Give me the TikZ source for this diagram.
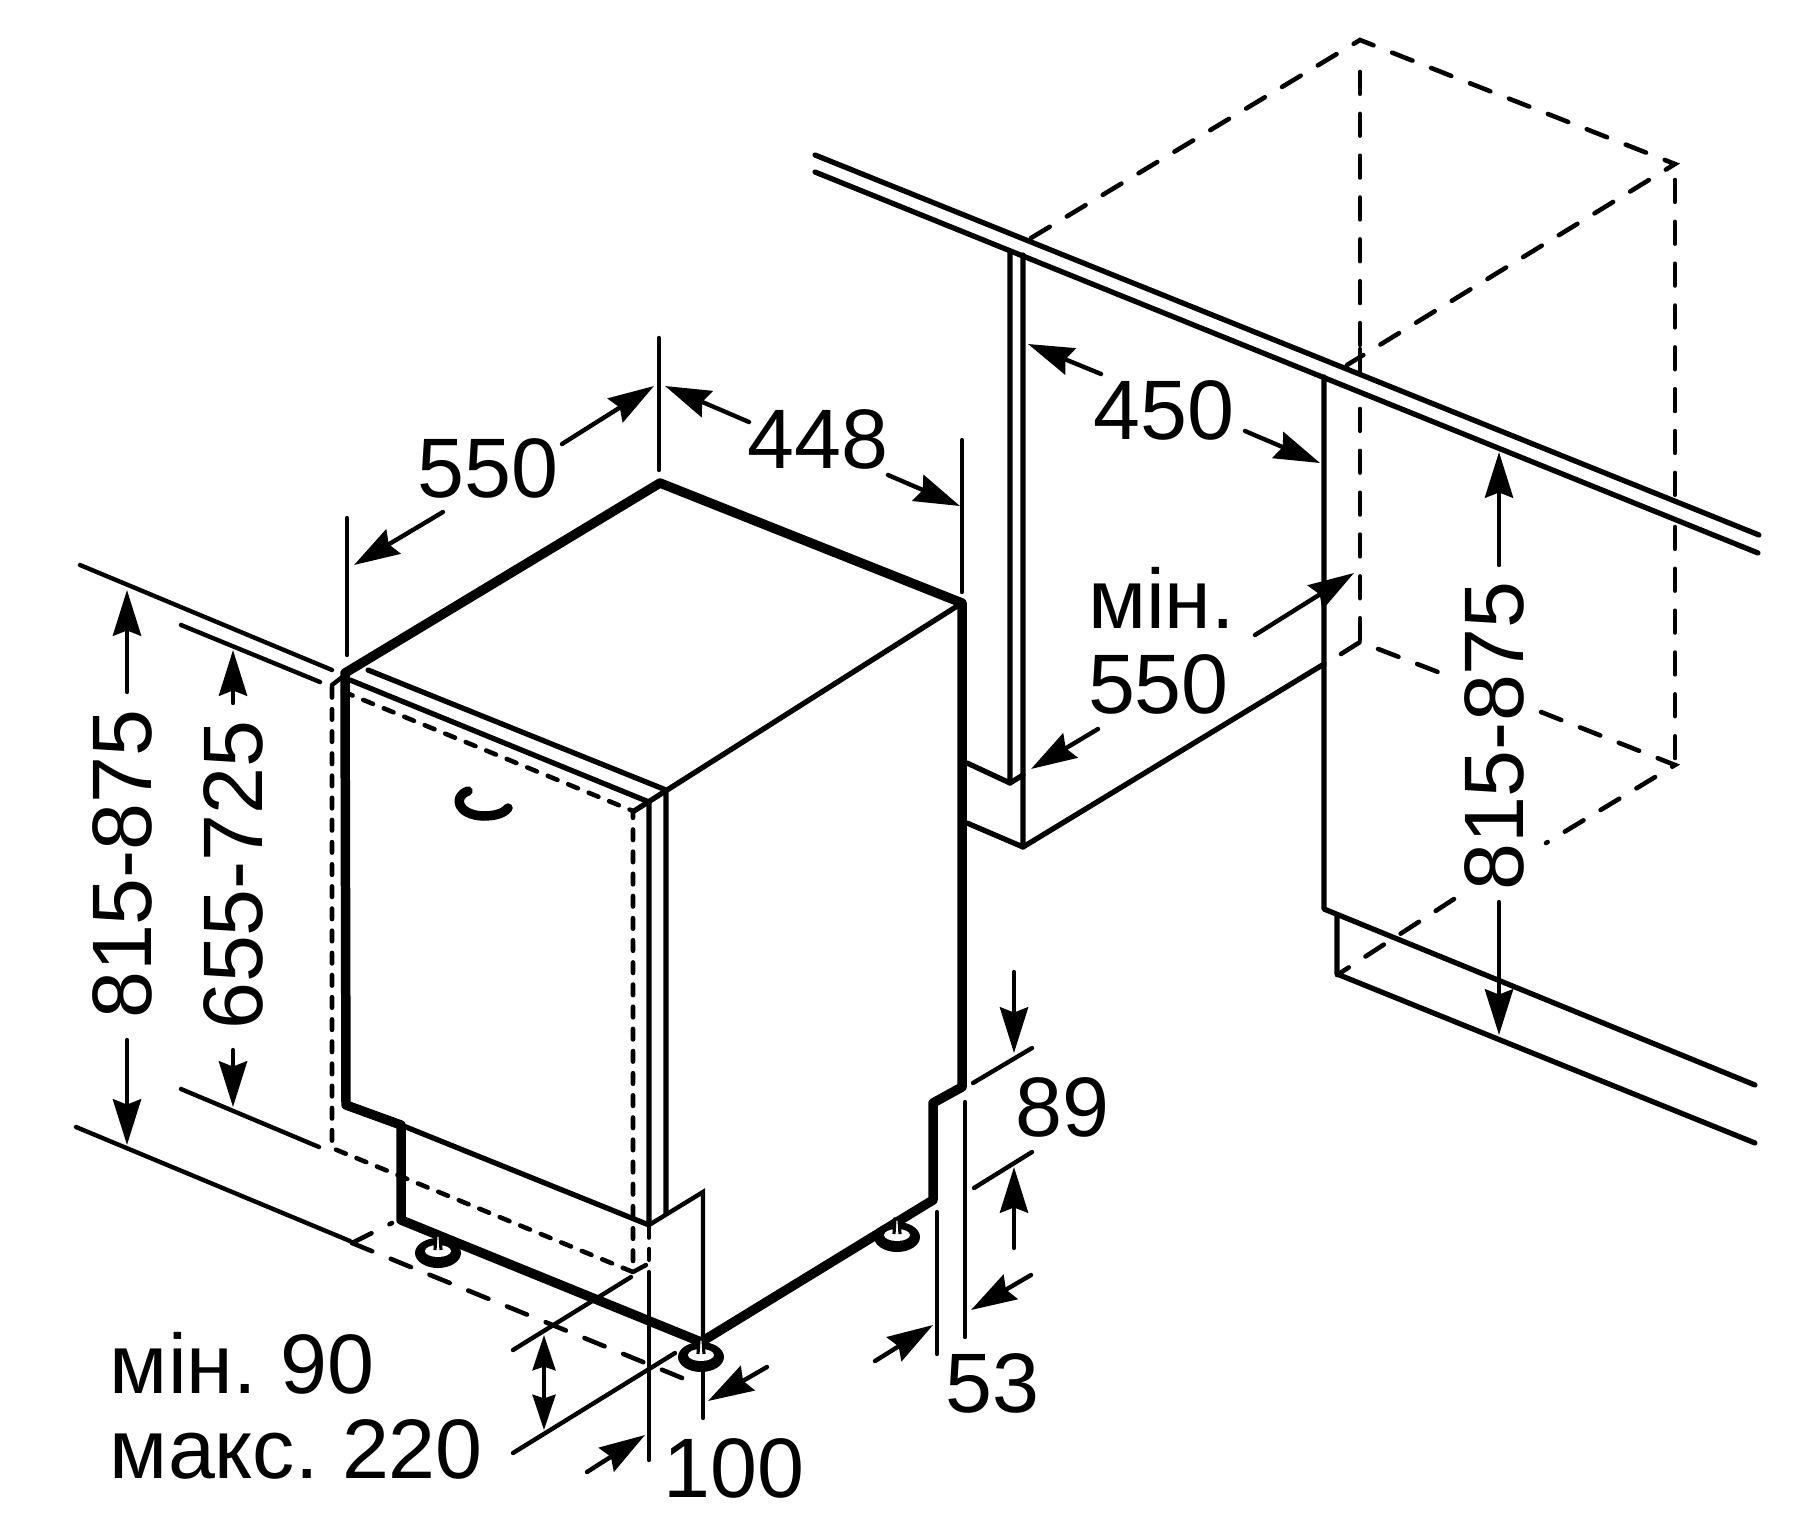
\documentclass[tikz,border=0pt]{standalone}
\usepackage{fontspec}
\setmainfont{Liberation Sans}
\usetikzlibrary{arrows.meta}

\begin{document}
\begin{tikzpicture}[
    x=0.01cm,y=-0.01cm,
    heavyline/.style={line width=2.7pt,line join=round,line cap=round},
    bodyline/.style={line width=1.5pt,line join=round,line cap=round},
    dimline/.style={line width=1.25pt,line cap=round},
    dimarrow/.style={dimline,-{Stealth[length=13pt,width=8pt,inset=1.5pt]}},
    dimboth/.style={dimline,{Stealth[length=10pt,width=6.5pt,inset=1pt]}-{Stealth[length=10pt,width=6.5pt,inset=1pt]}},
    hidden/.style={line width=1.3pt,line cap=round,dash pattern=on 3pt off 3.3pt},
    hiddenlong/.style={line width=1.3pt,line cap=round,dash pattern=on 6.2pt off 5.7pt},
    dimtext/.style={font=\fontsize{24}{24}\selectfont\frenchspacing,inner sep=0pt,outer sep=0pt},
  ]
  \useasboundingbox (0,0) rectangle (1800,1512);

  % appliance corners
  \coordinate (apex) at (660,483);
  \coordinate (topright) at (962,603);
  \coordinate (topleft) at (345,673);
  \coordinate (frontfoot) at (701,1342);

  % door and hidden outline
  \draw[hidden] (332,687) -- (332,1148) -- (633,1272) -- (633,811) -- cycle;
  \draw[hidden] (649,1227) -- (649,1270);
  \draw[bodyline] (368,670) -- (666,790) -- (666,1213);
  \draw[bodyline] (350,680) -- (649,802) -- (649,1225) -- (401,1125);
  \draw[bodyline] (topright) -- (634,811);
  \draw[dimline] (332,685) -- (345,675);
  \draw[dimline] (649,1225) -- (703,1192) -- (703,1340);

  % thick outline
  \draw[heavyline] (topleft) -- (apex) -- (topright) -- (962,1087) -- (933,1103)
    -- (933,1200) -- (frontfoot) -- (401,1220) -- (401,1125) -- (346,1105) -- (topleft);

  % handle
  \draw[heavyline] (468,791) .. controls (452,797) and (458,815) .. (483,816)
    .. controls (494,816) and (503,814) .. (508,808);

  % feet
  \foreach \fx/\fy in {438/1253,701/1357,897/1237} {
    \fill (\fx,\fy) ellipse [x radius=23,y radius=15];
    \fill[white] (\fx,\fy-2) ellipse [x radius=13,y radius=6];
    \draw[line width=0.9pt,fill=white] (\fx-3,\fy-3) -- (\fx-2,\fy-18) -- (\fx+2,\fy-18) -- (\fx+3,\fy-3);
  }

  % floor line and extension lines, left
  \draw[dimline] (80,565) -- (332,670);
  \draw[dimline] (181,625) -- (320,682);
  \draw[dimline] (76,1127) -- (350,1241);
  \draw[dimline] (181,1089) -- (319,1147);
  \draw[hiddenlong] (352,1243) -- (687,1380);
  \draw[hiddenlong] (352,1243) -- (392,1223);
  \draw[dimline] (513,1350) -- (631,1277);
  \draw[dimline] (633,1272) -- (646,1265);
  \draw[dimline] (513,1453) -- (675,1353);
  \draw[dimline] (649,1272) -- (649,1460);
  \draw[dimline] (703,1372) -- (703,1418);

  % extension lines, top
  \draw[dimline] (659,338) -- (659,470);
  \draw[dimline] (347,518) -- (347,655);
  \draw[dimline] (962,440) -- (962,592);

  % extension lines, right of appliance
  \draw[dimline] (973,1083) -- (1032,1048);
  \draw[dimline] (974,1188) -- (1032,1152);
  \draw[dimline] (937,1212) -- (937,1354);
  \draw[dimline] (965,1102) -- (965,1337);

  % kitchen cabinets
  \draw[bodyline] (815,155) -- (1759,535);
  \draw[bodyline] (815,172) -- (1758,553);
  \draw[bodyline] (1010,252) -- (1010,783) -- (967,763);
  \draw[bodyline] (1010,783) -- (1023,775);
  \draw[bodyline] (1023,255) -- (1023,847) -- (967,823);
  \draw[bodyline] (1023,847) -- (1324,664);
  \draw[bodyline] (1324,377) -- (1324,909) -- (1755,1085);
  \draw[bodyline] (1337,916) -- (1337,974) -- (1755,1143);
  \draw[dimline] (1360,349) -- (1360,373);

  % dashed cabinet
  \draw[hiddenlong] (1031,238) -- (1360,40) -- (1675,164) -- (1347,365);
  \draw[hiddenlong] (1360,72) -- (1360,349);
  \draw[hiddenlong] (1360,409) -- (1360,642);
  \draw[hiddenlong] (1675,180) -- (1675,499);
  \draw[hiddenlong] (1675,527) -- (1675,763);
  \draw[hiddenlong] (1341,654) -- (1360,642) -- (1451,677);
  \draw[hiddenlong] (1541,712) -- (1675,765) -- (1546,843);
  \draw[hiddenlong] (1454,899) -- (1337,975);

  % dimension arrows
  \draw[dimarrow] (562,444) -- (654,386);
  \draw[dimarrow] (443,512) -- (354,565);
  \draw[dimarrow] (749,422) -- (665,386);
  \draw[dimarrow] (888,475) -- (960,506);
  \draw[dimarrow] (1101,374) -- (1028,344);
  \draw[dimarrow] (1245,431) -- (1320,463);
  \draw[dimarrow] (1255,635) -- (1354,573);
  \draw[dimarrow] (1098,729) -- (1031,769);
  \draw[dimarrow] (1499,565) -- (1499,452);
  \draw[dimarrow] (1499,902) -- (1499,1035);
  \draw[dimarrow] (127,692) -- (127,590);
  \draw[dimarrow] (127,1040) -- (127,1145);
  \draw[dimarrow] (233,703) -- (233,650);
  \draw[dimarrow] (233,1050) -- (233,1107);
  \draw[dimboth] (544,1335) -- (544,1430);
  \draw[dimarrow] (587,1472) -- (645,1435);
  \draw[dimarrow] (767,1367) -- (708,1401);
  \draw[dimarrow] (1014,972) -- (1014,1053);
  \draw[dimarrow] (1014,1248) -- (1014,1167);
  \draw[dimarrow] (1031,1275) -- (971,1310);
  \draw[dimarrow] (875,1361) -- (933,1325);

  % labels
  \node[dimtext] (depthlabel) at (488,468) {550};
  \node[dimtext] (widthlabel) at (818,439) {448};
  \node[dimtext] (nichewidth) at (1164,410) {450};
  \node[dimtext,anchor=base west] (nichemin) at (1088,628) {мін.};
  \node[dimtext,anchor=base west] (nichedepth) at (1088,713) {550};
  \node[dimtext,rotate=90] (heightright) at (1494,736) {815-875};
  \node[dimtext,rotate=90] (heightleft) at (122,864) {815-875};
  \node[dimtext,rotate=90] (doorheight) at (233,875) {655-725};
  \node[dimtext,anchor=base west] (plinthmin) at (110,1393) {мін. 90};
  \node[dimtext,anchor=base west] (plinthmax) at (110,1478) {макс. 220};
  \node[dimtext] (footinset) at (734,1468) {100};
  \node[dimtext] (sideinset) at (992,1383) {53};
  \node[dimtext] (stepheight) at (1062,1107) {89};
\end{tikzpicture}
\end{document}
